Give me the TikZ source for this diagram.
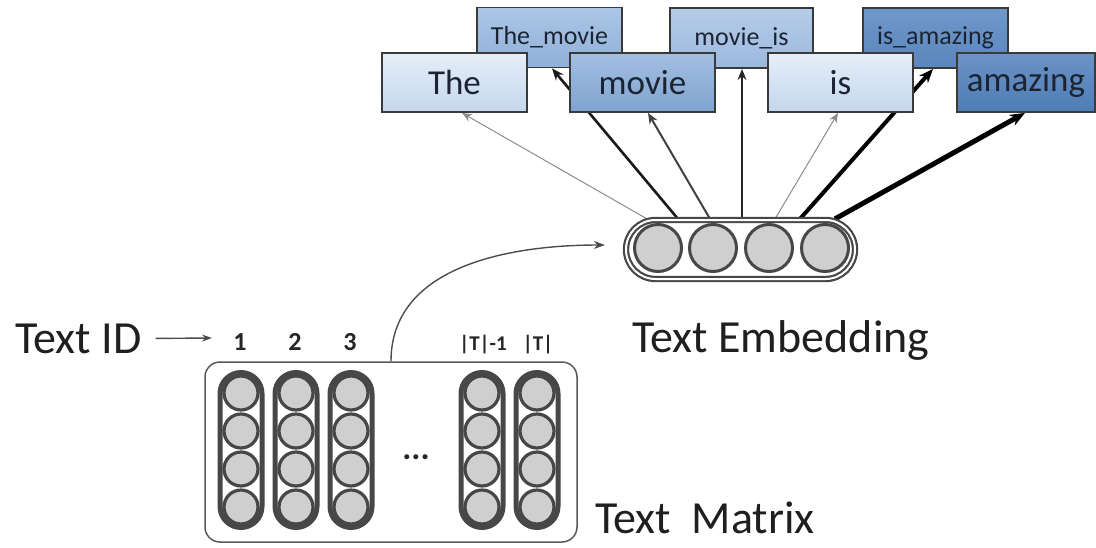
\documentclass[tikz,border=0pt]{standalone}
\usepackage{fontspec}
\setmainfont{Carlito}
\usetikzlibrary{arrows.meta,shapes.misc}
\pgfdeclarelayer{bg}
\pgfsetlayers{bg,main}
\definecolor{bd}{HTML}{3A3A3A}
\definecolor{txt}{HTML}{1C2433}
\definecolor{lightT}{HTML}{E6EEF8}
\definecolor{lightB}{HTML}{C4D7ED}
\definecolor{movT}{HTML}{A3C0E2}
\definecolor{movB}{HTML}{7FA2CF}
\definecolor{tmT}{HTML}{ABC6E6}
\definecolor{tmB}{HTML}{90B0D8}
\definecolor{miT}{HTML}{B6CDEA}
\definecolor{miB}{HTML}{9BB8DD}
\definecolor{iaT}{HTML}{6F98CA}
\definecolor{iaB}{HTML}{5A86BD}
\definecolor{amT}{HTML}{6B94C7}
\definecolor{amB}{HTML}{4E7CB5}
\definecolor{ring}{HTML}{474747}
\definecolor{ball}{HTML}{CFCFCF}
\definecolor{thin}{HTML}{8C8C8C}
\begin{document}
\begin{tikzpicture}[x=1pt,y=-1pt,
  frontbox/.style={draw=bd, line width=1.8pt, minimum height=59pt, inner sep=0pt, text=txt,
    font=\fontsize{35}{40}\selectfont},
  backbox/.style={draw=bd, line width=1.8pt, minimum height=60pt, inner sep=0pt, text=txt,
    font=\fontsize{26}{30}\selectfont},
  biglabel/.style={font=\fontsize{46}{52}\selectfont, inner sep=0pt, anchor=base west, text=black!88},
  idxlabel/.style={font=\bfseries\fontsize{26}{30}\selectfont, inner sep=0pt, anchor=base, text=black!85},
  smallidx/.style={font=\bfseries\fontsize{21}{25}\selectfont, inner sep=0pt, anchor=base, text=black!85},
  embpill/.style={rounded rectangle, draw=ring, line width=2.2pt, double=white, double distance=2pt,
    fill=white, minimum width=229pt, minimum height=59pt, inner sep=0pt},
  embball/.style={circle, draw=ring, line width=3pt, fill=ball, minimum size=47pt, inner sep=0pt},
  colpill/.style={rounded rectangle, rotate=90, draw=ring, line width=5pt,
    fill=white, minimum width=155pt, minimum height=42pt, inner sep=0pt},
  colball/.style={circle, draw=ring, line width=3.2pt, fill=ball, minimum size=34pt, inner sep=0pt},
  wt/.style={-{Stealth[length=#1,width=0.8*#1]}},
]
\useasboundingbox (0,0) rectangle (1096,547);

% back row of boxes
\begin{pgfonlayer}{bg}
\node[backbox, minimum width=145pt, top color=tmT, bottom color=tmB] (The_movie) at (549.5,37.5) {The\_movie};
\node[backbox, minimum width=143pt, top color=miT, bottom color=miB] (movie_is) at (741.5,38) {movie\_is};
\node[backbox, minimum width=145pt, top color=iaT, bottom color=iaB] (is_amazing) at (935.5,38) {is\_amazing};
\end{pgfonlayer}

% front row of boxes
\node[frontbox, minimum width=145pt, top color=lightT, bottom color=lightB] (The) at (454.5,82.5) {The};
\node[frontbox, minimum width=145pt, top color=movT, bottom color=movB] (movie) at (642.5,82.5) {movie};
\node[frontbox, minimum width=145pt, top color=lightT, bottom color=lightB] (is) at (840.5,82.5) {is};
\node[frontbox, minimum width=138pt, top color=amT, bottom color=amB] (amazing) at (1026,82.5) {amazing};

% text embedding
\node[embpill] (emb) at (740.5,249.5) {};
\node[embball] (e1) at (658,248) {};
\node[embball] (e2) at (713,248) {};
\node[embball] (e3) at (769,248) {};
\node[embball] (e4) at (825,248) {};
\node[biglabel] (temb) at (632,352) {Text Embedding};

% arrows from embedding to words
\begin{pgfonlayer}{bg}
\draw[wt=10pt, draw=thin, line width=1pt] ([xshift=-93.5pt]emb.north) -- ([xshift=7.5pt]The.south);
\draw[wt=12pt, draw=black!90, line width=2.6pt] ([xshift=-62.5pt]emb.north) -- ([xshift=2.5pt]The_movie.south);
\draw[wt=11pt, draw=black!75, line width=2pt] ([xshift=-30.5pt]emb.north) -- ([xshift=5.5pt]movie.south);
\draw[wt=11pt, draw=black!85, line width=2pt] ([xshift=1.5pt]emb.north) -- ([xshift=0.5pt]movie_is.south);
\draw[wt=10pt, draw=thin, line width=1pt] ([xshift=34.5pt]emb.north) -- ([xshift=-2.5pt]is.south);
\draw[wt=14pt, draw=black, line width=4pt] ([xshift=59.5pt]emb.north) -- ([xshift=-2.5pt]is_amazing.south);
\draw[wt=15pt, draw=black, line width=5pt] ([xshift=94.5pt]emb.north) -- ([xshift=-1pt]amazing.south);
\end{pgfonlayer}

% text matrix
\node[draw=black!65, line width=1.5pt, rounded corners=15pt, minimum width=372pt, minimum height=180pt,
  inner sep=0pt] (tm) at (391,452) {};
\foreach \x/\n in {241/1,296/2,351/3,482/4,537/5}{
  \node[colpill] (c\n) at (\x,450) {};
  \foreach \y/\m in {393/a,431/b,469/c,507/d}
    \node[colball] (c\n\m) at (\x,\y) {};
}
\node[font=\bfseries\fontsize{34}{38}\selectfont, inner sep=0pt, anchor=base, text=black!85] (dots) at (416,459) {...};

\node[idxlabel] (l1) at (240,350) {1};
\node[idxlabel] (l2) at (295,350) {2};
\node[idxlabel] (l3) at (350,350) {3};
\node[smallidx] (l4) at (483,350) {|T|-1};
\node[smallidx] (l5) at (538,350) {|T|};

\node[biglabel] (tmat) at (595,533) {Text\ \ Matrix};
\node[biglabel] (tid) at (15,353) {Text ID};
\coordinate (tidend) at (212,338);
\draw[-{Stealth[length=10pt,width=7pt]}, draw=black!70, line width=1.4pt] ([xshift=14pt]tid.east) -- (tidend);

% curved arrow from matrix to embedding
\draw[-{Stealth[length=11pt,width=8pt]}, draw=black!70, line width=1.4pt]
  (tm.north) to[out=90,in=180] ([xshift=-20pt,yshift=4.5pt]emb.west);
\end{tikzpicture}
\end{document}
